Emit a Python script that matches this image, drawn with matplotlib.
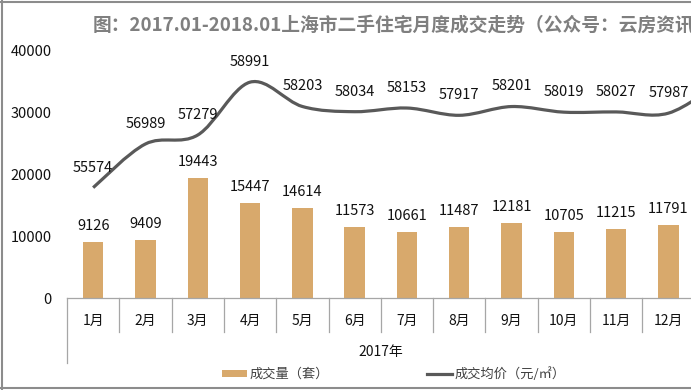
import matplotlib
matplotlib.use("Agg")
import matplotlib.pyplot as plt
import numpy as np
from matplotlib.path import Path
from matplotlib.patches import PathPatch, Patch
from matplotlib.lines import Line2D
import matplotlib.transforms as mtransforms

plt.rcParams['font.family'] = ['Noto Sans CJK SC', 'DejaVu Sans']

# ---- data ----
months = ['1月', '2月', '3月', '4月', '5月', '6月', '7月', '8月', '9月', '10月', '11月', '12月']
group_label = '2017年'
volume = [9126, 9409, 19443, 15447, 14614, 11573, 10661, 11487, 12181, 10705, 11215, 11791]
# average price; last value (2018.01) lies outside the visible crop, estimated
price = [55574, 56989, 57279, 58991, 58203, 58034, 58153, 57917, 58201, 58019, 58027, 57987, 59000]
yticks = [0, 10000, 20000, 30000, 40000]
title = '图：2017.01-2018.01上海市二手住宅月度成交走势（公众号：云房资讯）'
legend_labels = ['成交量（套）', '成交均价（元/㎡）']

BAR_C = '#D8A96C'
LINE_C = '#595959'
W, H = 691, 390

fig = plt.figure(figsize=(W / 100, H / 100), dpi=100)
fig.patch.set_facecolor('white')

ncat = len(price)  # 13 categories; the 13th is cut off by the crop
cat_w = 52.3
left_px, bottom_px, top_px = 67, 298, 51
ax = fig.add_axes([left_px / W, (H - bottom_px) / H, ncat * cat_w / W, (bottom_px - top_px) / H])
ax.set_xlim(-0.5, ncat - 0.5)
ax.set_ylim(0, 40000)
x = np.arange(len(months))
ax.bar(x, volume, width=0.39, color=BAR_C, zorder=2)
for xi, v in zip(x, volume):
    ax.annotate(f'{v}', (xi, v), xytext=(0, 6.5), textcoords='offset points',
                ha='center', va='bottom', fontsize=10.5, color='#111111')

for s in ['top', 'right', 'left']:
    ax.spines[s].set_visible(False)
ax.spines['bottom'].set_color('#A6A6A6')
ax.spines['bottom'].set_linewidth(0.9)
ax.set_yticks(yticks)
ax.set_yticklabels([str(t) for t in yticks], fontsize=10.5, color='#111111')
ax.tick_params(axis='y', length=0, pad=11)
ax.set_xticks([])

# category separators and labels
trans = mtransforms.blended_transform_factory(ax.transData, ax.transAxes)
for b in range(len(months) + 1):
    xb = b - 0.5
    ybot = -0.263 if b in (0, len(months)) else -0.138
    ax.plot([xb, xb], [0, ybot], transform=trans, color='#A6A6A6', lw=0.9, clip_on=False)
for xi, m in zip(x, months):
    ax.text(xi, -0.093, m, transform=trans, ha='center', va='center', fontsize=10, color='#111111')
ax.text((len(months) - 1) / 2, -0.219, group_label, transform=trans, ha='center', va='center',
        fontsize=10, color='#111111')

# smooth price line on hidden secondary axis
ax2 = ax.twinx()
ax2.set_ylim(52000, 60000)
ax2.set_xlim(-0.5, ncat - 0.5)
ax2.axis('off')
px = np.arange(ncat, dtype=float)
py = np.array(price, dtype=float)
verts = [(px[0], py[0])]
codes = [Path.MOVETO]
n = len(px)
for i in range(n - 1):
    p0 = np.array([px[max(i - 1, 0)], py[max(i - 1, 0)]])
    p1 = np.array([px[i], py[i]])
    p2 = np.array([px[i + 1], py[i + 1]])
    p3 = np.array([px[min(i + 2, n - 1)], py[min(i + 2, n - 1)]])
    c1 = p1 + (p2 - p0) / 6
    c2 = p2 - (p3 - p1) / 6
    verts += [tuple(c1), tuple(c2), tuple(p2)]
    codes += [Path.CURVE4] * 3
ax2.add_patch(PathPatch(Path(verts, codes), fill=False, edgecolor=LINE_C, lw=2.3,
                        capstyle='butt', zorder=3, clip_on=False))
for xi, v in zip(px[:len(months)], price[:len(months)]):
    ax2.annotate(f'{v}', (xi, v), xytext=(0, 14.5), textcoords='offset points',
                 ha='center', va='center', fontsize=10.5, color='#111111')

# title
fig.text(93 / W, (H - 25) / H, title, ha='left', va='center', fontsize=13.5,
         fontweight='bold', color='#7F7F7F')

# legend
handles = [Patch(facecolor=BAR_C, edgecolor='none'), Line2D([], [], color=LINE_C, lw=2.3)]
leg = fig.legend(handles, legend_labels, loc='center', bbox_to_anchor=(394 / W, (H - 374) / H),
                 ncol=2, frameon=False, fontsize=9.5, handlelength=1.9, handleheight=0.45,
                 handletextpad=0.2, columnspacing=7.4, labelcolor='#404040')

# outer frame (left, top, bottom visible; right edge cropped)
fig.add_artist(Line2D([1.5 / W, 1.5 / W], [0, 1], color='#8C8C8C', lw=1.5, transform=fig.transFigure))
fig.add_artist(Line2D([0, 1], [1 - 1.5 / H, 1 - 1.5 / H], color='#8C8C8C', lw=1.5, transform=fig.transFigure))
fig.add_artist(Line2D([0, 1], [2.5 / H, 2.5 / H], color='#8C8C8C', lw=1.5, transform=fig.transFigure))

fig.savefig('out.png', dpi=100)
